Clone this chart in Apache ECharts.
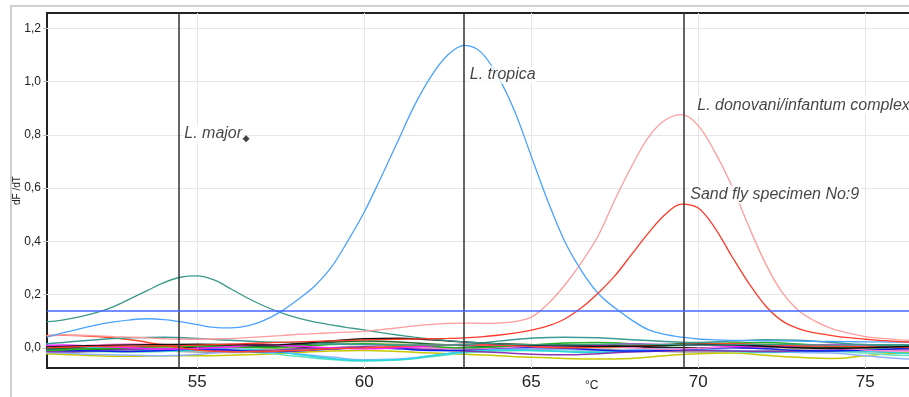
<!DOCTYPE html>
<html>
<head>
<meta charset="utf-8">
<script src="https://cdn.jsdelivr.net/npm/echarts@6/dist/echarts.min.js"></script>
<style>
  html, body { margin: 0; padding: 0; background: #fff; }
  #chart { width: 909px; height: 397px; }
</style>
</head>
<body>
<div id="chart"></div>
<script>
// melt temperature (°C), 0.5 step, for the sample curves
const tempFine = [50.5, 51, 51.5, 52, 52.5, 53, 53.5, 54, 54.5, 55, 55.5, 56, 56.5, 57, 57.5, 58, 58.5, 59, 59.5, 60,
  60.5, 61, 61.5, 62, 62.5, 63, 63.5, 64, 64.5, 65, 65.5, 66, 66.5, 67, 67.5, 68, 68.5, 69, 69.5, 70,
  70.5, 71, 71.5, 72, 72.5, 73, 73.5, 74, 74.5, 75, 75.5, 76, 76.5]

const tropica = [0.040, 0.057, 0.072, 0.086, 0.097, 0.105, 0.109, 0.106, 0.098, 0.087, 0.077, 0.075, 0.082, 0.103, 0.136, 0.180, 0.230, 0.300, 0.400, 0.510,
  0.640, 0.775, 0.910, 1.020, 1.100, 1.136, 1.110, 1.020, 0.890, 0.720, 0.550, 0.400, 0.290, 0.205, 0.150, 0.105, 0.068, 0.050, 0.040, 0.033,
  0.030, 0.028, 0.027, 0.026, 0.026, 0.025, 0.024, 0.024, 0.023, 0.022, 0.022, 0.021, 0.021]

const donovani = [0.045, 0.048, 0.047, 0.045, 0.042, 0.040, 0.037, 0.034, 0.032, 0.032, 0.033, 0.035, 0.038, 0.042, 0.046, 0.050, 0.053, 0.056, 0.059, 0.062,
  0.068, 0.075, 0.082, 0.088, 0.092, 0.093, 0.092, 0.093, 0.098, 0.115, 0.165, 0.235, 0.320, 0.420, 0.555, 0.680, 0.790, 0.855, 0.876, 0.835,
  0.735, 0.610, 0.460, 0.320, 0.210, 0.140, 0.100, 0.072, 0.055, 0.042, 0.035, 0.030, 0.028]

const sandfly9 = [0.000, 0.002, 0.004, 0.005, 0.006, 0.006, 0.006, 0.007, 0.008, 0.010, 0.012, 0.014, 0.016, 0.018, 0.020, 0.022, 0.024, 0.026, 0.028, 0.030,
  0.031, 0.032, 0.033, 0.034, 0.035, 0.037, 0.041, 0.047, 0.055, 0.066, 0.082, 0.108, 0.150, 0.205, 0.270, 0.350, 0.430, 0.500, 0.540, 0.525,
  0.450, 0.345, 0.245, 0.160, 0.102, 0.072, 0.056, 0.046, 0.038, 0.032, 0.027, 0.023, 0.021]

const major = [0.098, 0.105, 0.117, 0.133, 0.155, 0.185, 0.215, 0.245, 0.265, 0.270, 0.255, 0.222, 0.187, 0.157, 0.132, 0.112, 0.097, 0.086, 0.076, 0.067,
  0.057, 0.048, 0.040, 0.033, 0.027, 0.022, 0.018, 0.015, 0.013, 0.012, 0.011, 0.011, 0.012, 0.013, 0.014, 0.014, 0.013, 0.012, 0.011, 0.010,
  0.010, 0.011, 0.012, 0.013, 0.013, 0.012, 0.011, 0.010, 0.010, 0.011, 0.012, 0.012, 0.012]

// negative samples, 1 degree step
const tempCoarse = [50, 51, 52, 53, 54, 55, 56, 57, 58, 59, 60, 61, 62, 63, 64, 65, 66, 67, 68, 69, 70, 71, 72, 73, 74, 75, 76, 77]

const negBlack = [0.0, 0.005, 0.008, 0.01, 0.012, 0.013, 0.012, 0.01, 0.015, 0.025, 0.034, 0.036, 0.03, 0.022, 0.015, 0.01, 0.008, 0.006, 0.006, 0.008, 0.012, 0.01, 0.005, 0.0, -0.002, 0.0, 0.004, 0.005]
const negMagenta = [0.005, 0.01, 0.005, 0.0, -0.005, -0.002, 0.004, 0.01, 0.006, 0.0, -0.004, 0.0, 0.008, 0.012, 0.01, 0.005, 0.002, 0.008, 0.015, 0.012, 0.01, 0.006, 0.004, 0.008, 0.012, 0.01, 0.006, 0.004]
const negGreen = [-0.01, -0.008, -0.004, 0.0, 0.004, 0.006, 0.004, 0.0, 0.005, 0.012, 0.015, 0.01, 0.005, 0.0, 0.004, 0.01, 0.018, 0.02, 0.015, 0.008, 0.01, 0.018, 0.02, 0.014, 0.006, 0.0, 0.002, 0.004]
const negYellow = [-0.02, -0.025, -0.03, -0.032, -0.03, -0.03, -0.028, -0.024, -0.018, -0.012, -0.01, -0.014, -0.02, -0.024, -0.03, -0.036, -0.04, -0.042, -0.04, -0.03, -0.022, -0.02, -0.028, -0.036, -0.04, -0.03, -0.02, -0.015]
const negCyan = [0.01, 0.008, 0.0, -0.006, -0.01, -0.008, -0.004, -0.01, -0.025, -0.04, -0.048, -0.045, -0.03, -0.015, -0.008, -0.01, -0.015, -0.018, -0.012, -0.005, -0.008, -0.012, -0.016, -0.014, -0.01, -0.012, -0.02, -0.025]
const negLightBlue = [-0.015, -0.02, -0.025, -0.028, -0.03, -0.025, -0.015, -0.01, -0.022, -0.035, -0.045, -0.042, -0.03, -0.015, -0.008, -0.004, -0.006, -0.01, -0.008, -0.004, -0.006, -0.01, -0.014, -0.018, -0.02, -0.03, -0.04, -0.045]
const negBlue = [-0.005, -0.01, -0.012, -0.014, -0.01, -0.005, -0.008, -0.015, -0.012, -0.005, 0.0, -0.004, -0.01, -0.008, -0.002, 0.002, -0.002, -0.008, -0.012, -0.01, -0.004, 0.0, -0.004, -0.01, -0.012, -0.008, -0.004, 0.0]
const negPurple = [-0.012, -0.015, -0.01, -0.006, -0.004, -0.008, -0.012, -0.01, -0.004, 0.0, 0.004, 0.0, -0.006, -0.012, -0.018, -0.024, -0.026, -0.022, -0.016, -0.012, -0.01, -0.012, -0.014, -0.012, -0.008, -0.006, -0.008, -0.01]
const negRed = [0.045, 0.047, 0.042, 0.03, 0.01, -0.008, -0.015, -0.014, -0.01, -0.004, 0.0, 0.005, 0.01, 0.012, 0.01, 0.005, 0.0, 0.002, 0.006, 0.01, 0.014, 0.015, 0.012, 0.008, 0.006, 0.004, 0.002, 0.0]
const negTeal = [0.01, 0.02, 0.03, 0.038, 0.04, 0.035, 0.028, 0.022, 0.018, 0.014, 0.012, 0.01, 0.01, 0.012, 0.025, 0.036, 0.04, 0.038, 0.03, 0.024, 0.02, 0.025, 0.03, 0.028, 0.02, 0.012, 0.008, 0.01]
const negDarkGreen = [0.0, -0.004, -0.006, 0.0, 0.008, 0.01, 0.008, 0.004, 0.01, 0.02, 0.025, 0.022, 0.014, 0.008, 0.006, 0.01, 0.012, 0.01, 0.006, 0.012, 0.018, 0.016, 0.01, 0.004, 0.0, 0.004, 0.008, 0.006]
const negPink = [0.0, 0.004, 0.01, 0.014, 0.012, 0.006, 0.0, 0.004, 0.012, 0.016, 0.012, 0.004, 0.0, -0.004, 0.0, 0.006, 0.01, 0.008, 0.0, -0.006, -0.002, 0.004, 0.008, 0.006, 0.0, -0.008, -0.012, -0.01]
const negTan = [-0.008, -0.006, -0.002, 0.002, 0.0, -0.006, -0.01, -0.006, 0.004, 0.014, 0.018, 0.014, 0.01, 0.012, 0.016, 0.012, 0.004, 0.0, 0.004, 0.01, 0.012, 0.008, 0.002, -0.002, 0.0, 0.004, 0.006, 0.004]
const negGray = [-0.02, -0.018, -0.014, -0.01, -0.012, -0.016, -0.018, -0.014, -0.006, 0.0, 0.002, -0.002, -0.008, -0.012, -0.01, -0.006, -0.004, -0.006, -0.01, -0.014, -0.016, -0.014, -0.01, -0.008, -0.01, -0.014, -0.018, -0.02]
const negAqua = [-0.005, -0.01, -0.014, -0.016, -0.014, -0.01, -0.012, -0.02, -0.032, -0.044, -0.05, -0.046, -0.034, -0.02, -0.012, -0.01, -0.012, -0.014, -0.01, -0.006, -0.008, -0.014, -0.018, -0.016, -0.014, -0.02, -0.028, -0.03]

// peak markers, threshold, tick labels
const peakLines = [54.44, 62.98, 69.57]
const threshold = 0.136
const xTicks = [55, 60, 65, 70, 75]
const yTicks = [0, 0.2, 0.4, 0.6, 0.8, 1.0, 1.2]

// annotations
const noteNames = ['L. major', 'L. tropica', 'L. donovani/infantum complex', 'Sand fly specimen No:9']
const noteX = [54.58, 63.13, 69.94, 69.73]
const noteY = [0.804, 1.026, 0.912, 0.576]
const majorDot = [56.46, 0.785]

const chart = echarts.init(document.getElementById('chart'))

const pair = (xs, ys) => xs.map((x, i) => [x, ys[i]])

const negatives = [
  [negGray, '#9a9a9a'], [negTan, '#d2c28a'], [negYellow, '#c8c800'], [negAqua, '#66e0c0'],
  [negLightBlue, '#8fb0ff'], [negCyan, '#22d8e0'], [negPurple, '#8a38b0'], [negBlue, '#1020ee'],
  [negPink, '#ff80d0'], [negDarkGreen, '#1a6b2a'], [negGreen, '#22b022'], [negMagenta, '#ff20ff'],
  [negRed, '#ff4a2a'], [negTeal, '#3a9a94'], [negBlack, '#111111'],
]

const series = []

// background grid lines (markLine has its own z, keep it under the curves)
series.push({
  type: 'line',
  data: [],
  silent: true,
  z: 1,
  markLine: {
    z: 1,
    silent: true,
    symbol: 'none',
    animation: false,
    label: { show: false },
    lineStyle: { color: '#e6e6e6', width: 1, type: 'solid' },
    emphasis: { disabled: true },
    data: xTicks.map(v => ({ xAxis: v })).concat(yTicks.map(v => ({ yAxis: v }))),
  },
})

negatives.forEach(([vals, color]) => {
  series.push({
    type: 'line',
    data: pair(tempCoarse, vals),
    smooth: true,
    showSymbol: false,
    z: 2,
    lineStyle: { color, width: 1.5 },
  })
})

const curve = (name, vals, color) => ({
  name,
  type: 'line',
  data: pair(tempFine, vals),
  smooth: 0.35,
  showSymbol: false,
  z: 3,
  lineStyle: { color, width: 1.3 },
})

series.push(curve('L. major', major, '#3a9a88'))
series.push(curve('L. donovani', donovani, '#ff9c9c'))
series.push(curve('L. tropica', tropica, '#4aa2ff'))
series.push(curve('Sand fly 9', sandfly9, '#ff3a2a'))

// threshold + peak markers
series.push({
  type: 'line',
  data: [],
  silent: true,
  z: 4,
  markLine: {
    z: 4,
    silent: true,
    symbol: 'none',
    animation: false,
    label: { show: false },
    emphasis: { disabled: true },
    data: peakLines.map(v => ({ xAxis: v, lineStyle: { color: '#333', width: 1.5, type: 'solid' } }))
      .concat([{ yAxis: threshold, lineStyle: { color: '#4466ff', width: 1.6, type: 'solid' } }]),
  },
})

series.push({
  type: 'scatter',
  z: 6,
  symbol: 'diamond',
  symbolSize: 7,
  itemStyle: { color: '#111' },
  data: [majorDot],
})

series.push({
  type: 'scatter',
  z: 5,
  symbolSize: 0,
  data: noteNames.map((n, i) => ({ name: n, value: [noteX[i], noteY[i]] })),
  label: {
    show: true,
    position: 'right',
    distance: 0,
    formatter: '{b}',
    fontFamily: 'Liberation Sans',
    fontStyle: 'italic',
    fontSize: 16,
    color: '#151515',
    backgroundColor: '#fff',
    padding: [1, 1],
  },
})

const option = {
  animation: false,
  grid: {
    left: 47,
    top: 13,
    right: -3,
    bottom: 29,
    outerBoundsMode: 'none',
    containLabel: false,
    show: true,
    borderColor: '#222',
    borderWidth: 2,
  },
  xAxis: {
    type: 'value',
    min: 50.5,
    max: 76.4,
    axisLine: { show: true, lineStyle: { color: '#222', width: 2 } },
    axisTick: { show: true, customValues: xTicks, length: 3, lineStyle: { color: '#bbb' } },
    axisLabel: {
      customValues: xTicks,
      color: '#222',
      fontSize: 17,
      fontFamily: 'Liberation Sans',
      margin: 6,
    },
    splitLine: { show: false },
  },
  yAxis: {
    type: 'value',
    min: -0.076,
    max: 1.258,
    name: 'dF /dT',
    nameLocation: 'middle',
    nameRotate: 90,
    nameGap: 25,
    nameMoveOverlap: false,
    nameTextStyle: { fontSize: 10, color: '#222', fontFamily: 'Liberation Sans' },
    axisLine: { show: true, lineStyle: { color: '#222', width: 2 } },
    axisTick: { show: true, customValues: yTicks, length: 4, lineStyle: { color: '#bbb' } },
    axisLabel: {
      customValues: yTicks,
      color: '#222',
      fontSize: 12,
      fontFamily: 'Liberation Sans',
      margin: 6,
      formatter: v => v.toFixed(1).replace('.', ','),
    },
    splitLine: { show: false },
  },
  graphic: [
    {
      type: 'polyline',
      silent: true,
      shape: { points: [[11, 397], [11, 6], [909, 6]] },
      style: { stroke: '#d0d0d0', lineWidth: 2, fill: null },
    },
    {
      type: 'text',
      left: 585,
      top: 380,
      style: { text: '°C', fontSize: 12, fill: '#222', fontFamily: 'Liberation Sans' },
    },
  ],
  series,
}

chart.setOption(option)
</script>
</body>
</html>
